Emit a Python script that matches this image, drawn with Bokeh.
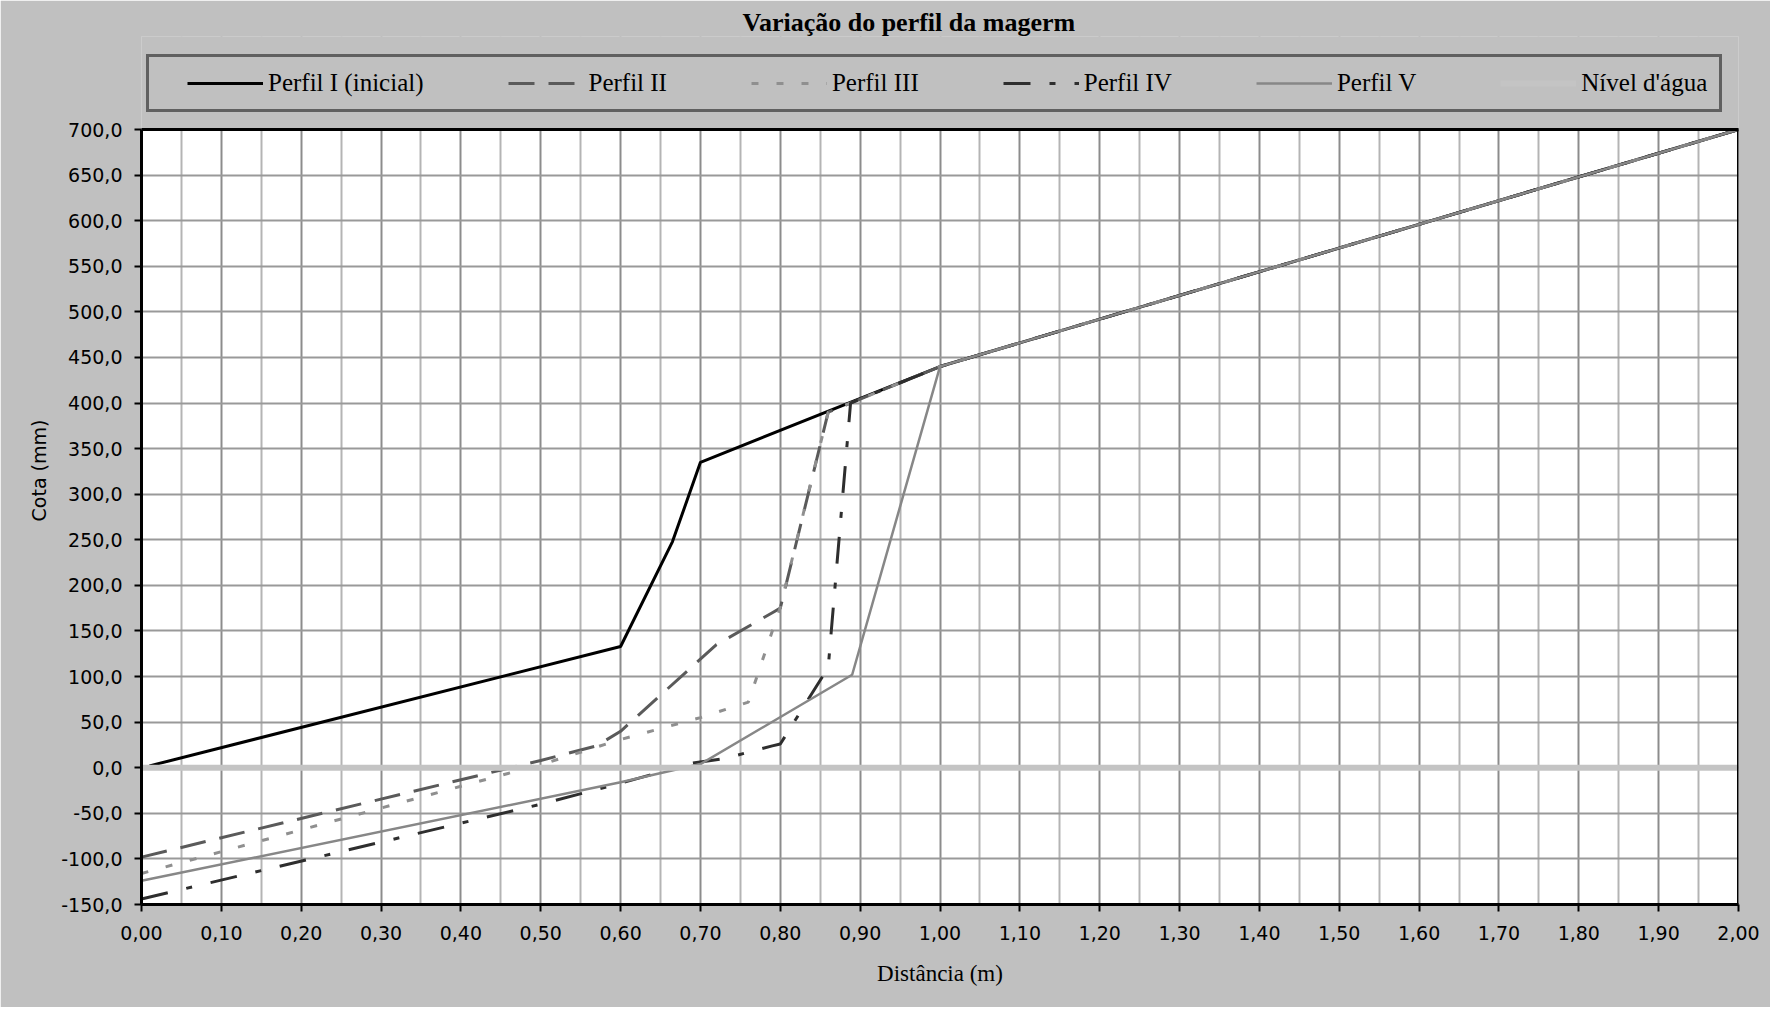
from bokeh.plotting import figure
from bokeh.models import Range1d, FixedTicker, Legend, LegendItem, BoxAnnotation
from bokeh.embed import file_html
from bokeh.resources import INLINE

# ---------------- texts ----------------
title_text = "Variação do perfil da magerm"
x_label = "Distância (m)"
y_label = "Cota (mm)"
series_names = ["Perfil I (inicial)", "Perfil II", "Perfil III", "Perfil IV", "Perfil V", "Nível d'água"]

# ---------------- ticks ----------------
x_ticks = [0.0, 0.1, 0.2, 0.3, 0.4, 0.5, 0.6, 0.7, 0.8, 0.9, 1.0,
           1.1, 1.2, 1.3, 1.4, 1.5, 1.6, 1.7, 1.8, 1.9, 2.0]
x_tick_labels = ["0,00", "0,10", "0,20", "0,30", "0,40", "0,50", "0,60", "0,70", "0,80", "0,90", "1,00",
                 "1,10", "1,20", "1,30", "1,40", "1,50", "1,60", "1,70", "1,80", "1,90", "2,00"]
x_minor = [0.05, 0.15, 0.25, 0.35, 0.45, 0.55, 0.65, 0.75, 0.85, 0.95,
           1.05, 1.15, 1.25, 1.35, 1.45, 1.55, 1.65, 1.75, 1.85, 1.95]
y_ticks = [-150, -100, -50, 0, 50, 100, 150, 200, 250, 300, 350, 400, 450, 500, 550, 600, 650, 700]
y_tick_labels = ["-150,0", "-100,0", "-50,0", "0,0", "50,0", "100,0", "150,0", "200,0", "250,0",
                 "300,0", "350,0", "400,0", "450,0", "500,0", "550,0", "600,0", "650,0", "700,0"]
x_min, x_max = 0.0, 2.0
y_min, y_max = -150.0, 700.0

# ---------------- data (distance m, elevation mm) ----------------
perfil1_x = [0.01, 0.60, 0.665, 0.70, 1.00, 2.00]
perfil1_y = [2.0, 133.0, 248.0, 335.0, 440.0, 700.0]

perfil2_x = [0.00, 0.50, 0.57, 0.60, 0.72, 0.79, 0.80, 0.86, 1.00, 2.00]
perfil2_y = [-98.0, 8.0, 24.0, 40.0, 135.0, 170.0, 175.0, 390.0, 440.0, 700.0]

perfil3_x = [0.00, 0.51, 0.60, 0.70, 0.76, 0.80, 0.86, 1.00, 2.00]
perfil3_y = [-116.0, 6.0, 31.0, 55.0, 72.0, 176.0, 390.0, 440.0, 700.0]

perfil4_x = [0.00, 0.50, 0.60, 0.69, 0.73, 0.79, 0.80, 0.86, 0.888, 1.00, 2.00]
perfil4_y = [-144.0, -40.0, -17.0, 5.0, 10.0, 24.0, 26.0, 110.0, 400.0, 440.0, 700.0]

perfil5_x = [0.00, 0.60, 0.70, 0.89, 1.00, 2.00]
perfil5_y = [-124.0, -16.0, 4.0, 102.0, 440.0, 700.0]

nivel_x = [0.00, 2.00]
nivel_y = [0.0, 0.0]

# ---------------- styles ----------------
BG = "#c0c0c0"
styles = [
    dict(line_color="black", line_width=3),
    dict(line_color="#5a5a5a", line_width=3, line_dash="26 14"),
    dict(line_color="#8f8f8f", line_width=3, line_dash="7 18"),
    dict(line_color="#2e2e2e", line_width=3, line_dash="27 19 6 19"),
    dict(line_color="#878787", line_width=2.5),
    dict(line_color="#c4c4c4", line_width=6),
]

# layout in pixels: plotted area spans x 141..1738, y 129..904; the frame is
# extended upwards to y=36 so that the legend can sit above the plotted area.
W, H = 1770, 1007
F_LEFT, F_RIGHT, F_TOP, F_BOTTOM = 141, 1738, 36, 904
PLOT_TOP = 129
px_per_unit = (F_BOTTOM - PLOT_TOP) / (y_max - y_min)
y_top = y_max + (PLOT_TOP - F_TOP) / px_per_unit

p = figure(width=W, height=H,
           min_border_left=F_LEFT, min_border_right=W - F_RIGHT,
           min_border_top=F_TOP, min_border_bottom=H - F_BOTTOM,
           x_range=Range1d(x_min, x_max), y_range=Range1d(y_min, y_top),
           output_backend="svg", toolbar_location=None,
           background_fill_color=BG, border_fill_color=BG,
           outline_line_color=None)

p.title.text = title_text
p.title.align = "left"
p.title.offset = 742 - F_LEFT
p.title.standoff = 0
p.title.text_font = "Liberation Serif"
p.title.text_font_style = "bold"
p.title.text_font_size = "26px"
p.title.text_color = "black"

xt = FixedTicker(ticks=x_ticks, minor_ticks=x_minor)
yt = FixedTicker(ticks=y_ticks)
p.xaxis.ticker = xt
p.xgrid.ticker = xt
p.yaxis.ticker = yt
p.ygrid.ticker = yt
p.yaxis.bounds = (y_min, y_max)
p.xaxis.major_label_overrides = dict(zip(x_ticks, x_tick_labels))
p.yaxis.major_label_overrides = dict(zip(y_ticks, y_tick_labels))

for ax in (p.xaxis[0], p.yaxis[0]):
    ax.axis_line_color = "black"
    ax.axis_line_width = 3
    ax.major_tick_line_color = "black"
    ax.major_tick_line_width = 2
    ax.major_tick_out = 7
    ax.major_tick_in = 0
    ax.minor_tick_line_color = None
    ax.major_label_text_font = "DejaVu Sans"
    ax.major_label_text_font_size = "19px"
    ax.major_label_text_color = "black"
    ax.axis_label_text_color = "black"
    ax.axis_label_text_font_style = "normal"

p.xaxis.axis_label = x_label
p.xaxis.axis_label_text_font = "Liberation Serif"
p.xaxis.axis_label_text_font_size = "23px"
p.xaxis.major_label_standoff = 14
p.xaxis.axis_label_standoff = 18

p.yaxis.axis_label = y_label
p.yaxis.axis_label_text_font = "DejaVu Sans"
p.yaxis.axis_label_text_font_size = "19px"
p.yaxis.major_label_standoff = 12
p.yaxis.axis_label_standoff = 8

p.xgrid.grid_line_color = "#8c8c8c"
p.xgrid.grid_line_width = 2
p.xgrid.minor_grid_line_color = "#b4b4b4"
p.xgrid.minor_grid_line_width = 2
p.ygrid.grid_line_color = "#999999"
p.ygrid.grid_line_width = 2

# white plotting area, drawn beneath the grid
plot_area = BoxAnnotation(left=x_min, right=x_max, bottom=y_min, top=y_max,
                          fill_color="white", fill_alpha=1.0, line_color=None, level="underlay")
p.center = [plot_area] + list(p.center)

xs = [perfil1_x, perfil2_x, perfil3_x, perfil4_x, perfil5_x, nivel_x]
ys = [perfil1_y, perfil2_y, perfil3_y, perfil4_y, perfil5_y, nivel_y]
renderers = [p.line(xv, yv, **st) for xv, yv, st in zip(xs, ys, styles)]

# grey band above the plotted area (hides grid there) and the black plot border
p.add_layout(BoxAnnotation(bottom=y_max, fill_color=BG, fill_alpha=1.0, line_color=None))
p.add_layout(BoxAnnotation(left=x_min, right=x_max, bottom=y_min, top=y_max,
                           fill_alpha=0.0, line_color="black", line_width=3, line_alpha=1.0))

legend = Legend(items=[LegendItem(label=n, renderers=[r]) for n, r in zip(series_names, renderers)],
                orientation="horizontal", location=(146 - F_LEFT, F_BOTTOM - 112), margin=0, padding=12,
                spacing=84, glyph_width=76, glyph_height=20, label_standoff=5,
                label_text_font="Liberation Serif", label_text_font_size="25px",
                label_text_color="black",
                title=" ", title_location="left", title_standoff=11,
                border_line_color="black", border_line_width=3,
                background_fill_color=BG, background_fill_alpha=1.0)
p.add_layout(legend)

open("out.html", "w").write(file_html(p, INLINE))
